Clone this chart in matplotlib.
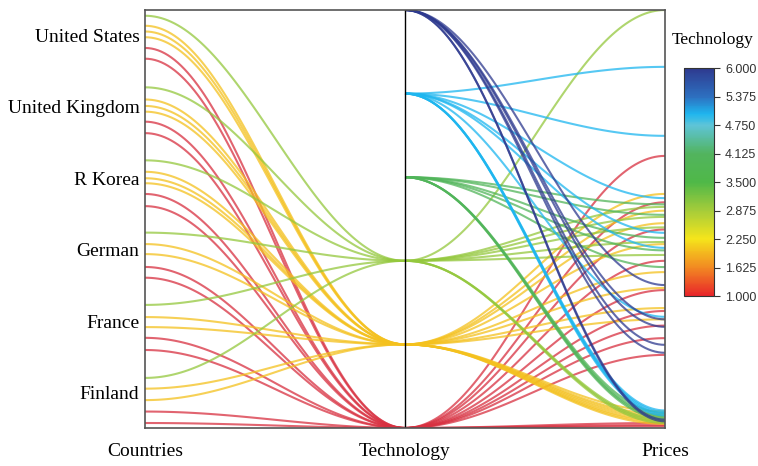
import numpy as np
import matplotlib.pyplot as plt
from matplotlib.colors import LinearSegmentedColormap, Normalize
from matplotlib.cm import ScalarMappable

# --- dados ---
countries = ['Finland', 'France', 'German', 'R Korea', 'United Kingdom', 'United States']
axis_names = ['Countries', 'Technology', 'Prices']

# posição no eixo Countries (1 = Finland ... 6 = United States), nan = sem ligação
country = [6.27, 6.13, 6.05, 5.97, 5.82, 5.67,
           5.27, 5.10, 5.01, 4.93, 4.79, 4.63,
           4.25, 4.09, 4.00, 3.93, 3.78, 3.61,
           3.24, 3.08, 2.94, 2.76, 2.61,
           2.23, 2.06, 1.92, 1.77, 1.60,
           1.21, 1.06, 0.90, 0.74, 0.58]
tech = [3, 2, 2, 2, 1, 1,
        3, 2, 2, 2, 1, 1,
        3, 2, 2, 2, 1, 1,
        3, 2, 2, 1, 1,
        3, 2, 2, 1, 1,
        3, 2, 2, 1, 1]
price = [100.0, 56.0, 52.0, 3.3, 65.1, 0.7,
         52.9, 49.0, 2.8, 1.0, 54.0, 24.5,
         50.5, 44.0, 37.3, 2.3, 47.5, 21.5,
         44.5, 33.5, 1.8, 40.0, 0.4,
         1.6, 28.7, 1.4, 33.0, 17.5,
         1.2, 26.0, 4.0, 28.0, 1.2]

# linhas que só aparecem entre Technology e Prices
tech_extra = [3, 3, 3,
              4, 4, 4, 4, 4, 4, 4, 4, 4,
              5, 5, 5, 5, 5, 5, 5, 5, 5, 5,
              6, 6, 6, 6, 6, 6, 6]
price_extra = [48.0, 41.4, 2.0,
               53.5, 51.0, 45.5, 42.5, 38.5, 3.6, 3.0, 2.6, 2.2,
               86.4, 69.9, 55.0, 46.7, 43.1, 26.6, 4.2, 3.8, 3.4, 3.0,
               34.2, 26.0, 24.2, 19.9, 18.0, 2.0, 1.6]

country = country + [np.nan] * len(tech_extra)
tech = tech + tech_extra
price = price + price_extra

country_range = (0.51, 6.35)
tech_range = (1.0, 6.0)
price_range = (0.0, 100.0)

cores = [(0.000, '#e8252a'), (0.125, '#f28a22'), (0.250, '#f5e51b'),
         (0.375, '#a5cc3a'), (0.500, '#4fb848'), (0.625, '#52b45e'),
         (0.750, '#5ec4d8'), (0.800, '#1eb6ef'), (0.875, '#2d70c0'),
         (1.000, '#2e3a8f')]
cmap = LinearSegmentedColormap.from_list('tech', cores)
norm = Normalize(vmin=1, vmax=6)


def normaliza(v, faixa):
    return (v - faixa[0]) / (faixa[1] - faixa[0])


def curva(ax, x0, y0, y1, cor):
    t = np.linspace(0, 1, 80)
    s = (1 - np.cos(np.pi * t)) / 2
    ax.plot(x0 + t, y0 + (y1 - y0) * s, color=cor, lw=1.5, alpha=0.75,
            solid_capstyle='butt')


fig = plt.figure(figsize=(7.58, 4.66), dpi=100)
ax = fig.add_axes([0.1913, 0.0815, 0.686, 0.897])

ordem = np.argsort(tech, kind='stable')
for i in ordem:
    cor = cmap(norm(tech[i]))
    if tech[i] == 1:
        cor = '#d83040'
    yt = normaliza(tech[i], tech_range)
    yp = normaliza(price[i], price_range)
    if not np.isnan(country[i]):
        yc = normaliza(country[i], country_range)
        curva(ax, 0, yc, yt, cor)
    curva(ax, 1, yt, yp, cor)

ax.axvline(1, color='black', lw=1.0)
ax.set_xlim(0, 2)
ax.set_ylim(0, 1)
for lado in ax.spines.values():
    lado.set_color('#555555')
    lado.set_linewidth(1.2)

serif = 'Liberation Serif'
ax.set_xticks([0, 1, 2])
ax.set_xticklabels(axis_names, fontsize=14, family=serif)
ax.set_yticks([normaliza(k + 1, country_range) for k in range(len(countries))])
ax.set_yticklabels(countries, fontsize=14, family=serif)
ax.tick_params(axis='x', length=0, pad=11)
ax.tick_params(axis='y', length=0, pad=4)

# barra de cores
cax = fig.add_axes([0.9024, 0.3648, 0.0396, 0.489])
cb = fig.colorbar(ScalarMappable(norm=norm, cmap=cmap), cax=cax,
                  ticks=np.linspace(1, 6, 9))
cb.ax.set_yticklabels([f'{v:.3f}' for v in np.linspace(1, 6, 9)],
                      fontsize=9, family='Liberation Sans', color='#333333')
cb.ax.tick_params(length=4, width=0.8, pad=4, color='#333333')
cb.outline.set_edgecolor('#333333')
cb.outline.set_linewidth(0.8)
fig.text(0.8865, 0.914, 'Technology', fontsize=12.5, family=serif,
         ha='left', va='center')

fig.savefig('out.png', dpi=100)
